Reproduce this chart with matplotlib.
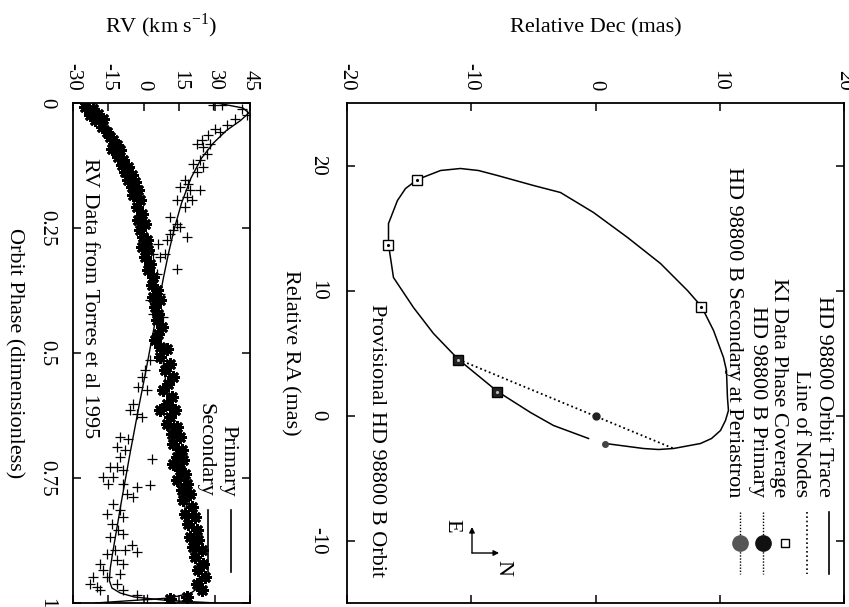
import matplotlib
matplotlib.use('Agg')
import matplotlib.pyplot as plt

plt.rcParams['font.family'] = ['Liberation Serif', 'DejaVu Serif']
plt.rcParams['mathtext.fontset'] = 'custom'
plt.rcParams['mathtext.rm'] = 'Liberation Serif'

# ---------------- Orbit panel data (mas) ----------------
orbit_dec = [0.80, 3.86, 5.07, 6.28, 8.45, 9.34, 10.06, 10.46, 10.70, 10.62, 10.54, 10.30, 9.50,
             8.53, 7.40, 5.23, 2.58, -0.16, -2.82, -4.99, -7.89, -9.42, -10.87, -12.47, -14.33,
             -15.29, -15.94, -16.66, -16.66, -16.26, -14.65, -13.04, -11.03, -7.89, -5.23,
             -3.38, -0.56]
orbit_ra = [-2.24, -2.64, -2.72, -2.64, -2.24, -1.84, -1.20, -0.40, 0.40, 1.44, 3.60, 4.64, 6.80,
            8.72, 10.00, 12.16, 14.24, 16.24, 17.84, 18.40, 19.20, 19.60, 19.76, 19.60, 18.88,
            18.16, 17.20, 15.36, 13.68, 11.04, 8.64, 6.56, 4.48, 1.92, 0.24,
            -0.80, -1.84]
nodes_dec = [-11.03, 6.28]
nodes_ra = [4.48, -2.64]
ki_dec = [-14.33, -16.66, -11.03, -7.89, 8.53]
ki_ra = [18.88, 13.68, 4.48, 1.92, 8.72]
ki_dark = [False, False, True, True, False]
primary_pos = (0.0, 0.0)
secondary_peri = (0.80, -2.24)

dec_ticks = [-20, -10, 0, 10, 20]
ra_ticks = [-10, 0, 10, 20]

# ---------------- RV panel data ----------------
prim_model_phase = [0, 0.02, 0.05, 0.1, 0.15, 0.2, 0.25, 0.3, 0.35, 0.4, 0.45, 0.5, 0.55, 0.6,
                    0.65, 0.7, 0.75, 0.8, 0.85, 0.9, 0.93, 0.955, 0.97, 0.98, 0.99, 1.0]
prim_model_rv = [-20.5, -18.5, -14.5, -9.5, -6.0, -3.0, -0.6, 1.5, 3.3, 4.9, 6.3, 7.7, 9.1, 10.5,
                 12.0, 13.6, 15.3, 17.1, 19.1, 21.3, 22.8, 23.8, 23.0, 20.0, 11.0, -20.5]
sec_model_phase = [0, 0.01, 0.02, 0.035, 0.055, 0.08, 0.11, 0.15, 0.2, 0.25, 0.3, 0.35, 0.4, 0.45,
                   0.5, 0.55, 0.6, 0.65, 0.7, 0.75, 0.8, 0.85, 0.9, 0.93, 0.955, 0.97, 0.98,
                   0.988, 0.995, 1.0]
sec_model_rv = [31, 42, 44.5, 41, 35, 29.5, 24.5, 20, 16, 13, 10.5, 8.3, 6.3, 4.3, 2.3, 0.3, -1.8,
                -3.8, -5.8, -7.7, -9.6, -11.4, -13.2, -14.2, -14.6, -13.5, -10, -4, 10, 31]

prim_phase = [0.007, 0.011, 0.024, 0.021, 0.034, 0.031, 0.047, 0.057, 0.067, 0.074, 0.084, 0.091,
              0.094, 0.107, 0.114, 0.124, 0.127, 0.137, 0.144, 0.154, 0.157, 0.167, 0.174, 0.184,
              0.194, 0.207, 0.221, 0.234, 0.241, 0.254, 0.267, 0.274, 0.287, 0.294, 0.307, 0.321,
              0.334, 0.347, 0.364, 0.374, 0.387, 0.394, 0.407, 0.421, 0.434, 0.447, 0.461, 0.474,
              0.487, 0.491, 0.507, 0.521, 0.534, 0.547, 0.561, 0.574, 0.587, 0.601, 0.614, 0.614,
              0.627, 0.641, 0.647, 0.661, 0.667, 0.681, 0.694, 0.707, 0.714, 0.721, 0.734, 0.741,
              0.754, 0.761, 0.774, 0.781, 0.794, 0.807, 0.821, 0.827, 0.841, 0.854, 0.867, 0.874,
              0.887, 0.894, 0.907, 0.921, 0.934, 0.947, 0.961, 0.974, 0.987, 0.991]
prim_rv = [-24.9, -21.4, -22.8, -19.3, -20.7, -17.1, -17.8, -15.7, -14.3, -12.9, -11.5, -13.6,
           -10.1, -10.8, -8.7, -9.4, -6.5, -8.0, -5.1, -6.5, -3.7, -5.1, -2.3, -4.4,
           -1.6, -3.0, -0.9, -2.3, 0.5, -1.6, -0.2, 1.2, -0.9, 1.9, 0.5, 2.6,
           1.9, 4.0, 3.3, 5.5, 4.0, 6.9, 4.7, 6.2, 5.5, 7.6, 6.2, 4.7,
           6.9, 9.7, 6.9, 11.1, 9.0, 12.5, 10.4, 8.3, 11.8, 9.7, 6.9, 13.2,
           11.1, 9.7, 13.9, 11.8, 15.3, 12.5, 16.0, 13.9, 16.8, 12.5, 15.3, 17.5,
           13.9, 18.2, 16.0, 19.6, 16.8, 20.3, 17.5, 21.7, 18.9, 22.4, 19.6, 23.1,
           21.0, 24.5, 21.7, 25.2, 23.1, 25.9, 22.4, 24.5, 18.2, 11.1]

sec_phase = [0.004, 0.004, 0.011, 0.024, 0.031, 0.044, 0.057, 0.051, 0.064, 0.074, 0.081, 0.087,
             0.081, 0.101, 0.114, 0.121, 0.127, 0.137, 0.154, 0.167, 0.161, 0.174, 0.174, 0.187,
             0.194, 0.207, 0.194, 0.227, 0.241, 0.247, 0.261, 0.267, 0.254, 0.274, 0.281, 0.301,
             0.301, 0.307, 0.331, 0.341, 0.381, 0.394, 0.421, 0.427,
             0.514, 0.534, 0.547, 0.567, 0.574, 0.601, 0.614, 0.621, 0.627, 0.667, 0.671, 0.687,
             0.694, 0.707, 0.711, 0.727, 0.727, 0.734, 0.747, 0.747, 0.761, 0.761, 0.767, 0.764,
             0.781, 0.787, 0.801, 0.814, 0.821, 0.827, 0.841, 0.854, 0.861, 0.867, 0.884, 0.894,
             0.894, 0.897, 0.901, 0.914, 0.921, 0.921, 0.934, 0.941, 0.947, 0.947, 0.961, 0.961,
             0.967, 0.974, 0.984, 0.974, 0.991]
sec_rv = [29.5, 33.0, 41.5, 43.6, 38.6, 35.1, 32.3, 30.2, 27.3, 24.5, 22.4, 25.2,
          28.1, 26.6, 23.8, 21.0, 25.2, 22.4, 17.5, 15.3, 18.9, 19.6, 23.8, 18.2,
          20.3, 17.5, 13.9, 11.1, 13.9, 15.3, 11.1, 18.2, 12.5, 9.7, 6.2, 9.0,
          4.0, 6.9, 13.9, 5.5, 6.9, 2.6, 4.0, 8.3,
          2.6, 0.5, -0.9, -2.3, 1.2, -4.4, -5.8, -3.0, -0.9, -10.1, -6.6, -11.5,
          -8.0, -10.1, 3.3, -14.3, -11.5, -8.7, -17.1, -12.9, -15.0, -8.7, -3.0, 2.6,
          -7.3, -4.4, -12.9, -10.1, -15.7, -8.7, -13.6, -10.8, -8.7, -14.3, -5.1, -12.2,
          -8.0, -3.0, -15.7, -11.5, -18.6, -8.7, -17.1, -10.1, -21.4, -15.7, -22.8, -11.5,
          -20.0, -8.7, -3.0, -18.6, 1.2]

rv_ticks = [-30, -15, 0, 15, 30, 45]
phase_ticks = [0, 0.25, 0.5, 0.75, 1]
phase_ticklabels = ['0', '0.25', '0.5', '0.75', '1']

W, H = 849, 607
fig = plt.figure(figsize=(W / 100, H / 100), dpi=100)
ax_rv = fig.add_axes([73 / W, 1 - 603 / H, 177 / W, 500 / H])
ax_orb = fig.add_axes([347 / W, 1 - 603 / H, 497 / W, 500 / H])

LBL = 16
TCK = 15

for ax in (ax_rv, ax_orb):
    for s in ax.spines.values():
        s.set_linewidth(1.3)
    ax.tick_params(direction='in', top=True, bottom=True, left=True, right=True,
                   labeltop=True, labelbottom=False, labelleft=True, labelright=False,
                   length=6, width=1.1, labelsize=TCK)

# ---------------- RV panel ----------------
ax_rv.plot(prim_model_rv, prim_model_phase, color='black', lw=1.0)
ax_rv.plot(sec_model_rv, sec_model_phase, color='black', lw=1.0)
ax_rv.plot(sec_rv, sec_phase, ls='none', marker='+', ms=7, mew=0.9, color='black')
ax_rv.plot(prim_rv, prim_phase, ls='none', marker=(8, 2, 0), ms=9, mew=2.0, color='black')
ax_rv.set_xlim(-30, 45)
ax_rv.set_ylim(1, 0)
ax_rv.set_xticks(rv_ticks)
ax_rv.set_xticklabels([str(t) for t in rv_ticks])
ax_rv.set_yticks(phase_ticks)
ax_rv.set_yticklabels(phase_ticklabels)
ax_rv.tick_params(axis='x', labelrotation=-90, pad=9)
ax_rv.tick_params(axis='y', labelrotation=-90, pad=12)
for lab in ax_rv.get_yticklabels():
    lab.set_va('center')
ax_rv.xaxis.set_label_position('top')
ax_rv.set_xlabel('RV (km s$^{\\mathregular{-1}}$)', fontsize=LBL, labelpad=22)
ax_rv.set_ylabel('Orbit Phase (dimensionless)', fontsize=LBL, rotation=-90, va='center')
ax_rv.yaxis.set_label_coords(-0.33, 0.5)

ax_rv.text(0.096, 0.61, 'RV Data from Torres et al 1995', transform=ax_rv.transAxes,
           rotation=-90, ha='center', va='center', fontsize=LBL)
ax_rv.text(0.876, 0.212, 'Primary', transform=ax_rv.transAxes, rotation=-90,
           ha='center', va='bottom', fontsize=LBL)
ax_rv.text(0.746, 0.212, 'Secondary', transform=ax_rv.transAxes, rotation=-90,
           ha='center', va='bottom', fontsize=LBL)
ax_rv.plot([0.89, 0.89], [0.186, 0.062], transform=ax_rv.transAxes, color='black', lw=1.2)
ax_rv.plot([0.76, 0.76], [0.186, 0.062], transform=ax_rv.transAxes, color='black', lw=1.2)

# ---------------- Orbit panel ----------------
ax_orb.plot(orbit_dec, orbit_ra, color='black', lw=1.1)
ax_orb.plot(nodes_dec, nodes_ra, color='black', lw=1.3, ls=(0, (1, 1.6)))
for d, r, dark in zip(ki_dec, ki_ra, ki_dark):
    ax_orb.plot([d], [r], ls='none', marker='s', ms=7, mew=1.0, mec='black',
                mfc='#222222' if dark else 'white')
    ax_orb.plot([d], [r], ls='none', marker='.', ms=2.5, color='#bbbbbb' if dark else 'black')
ax_orb.plot([primary_pos[0]], [primary_pos[1]], ls='none', marker='o', ms=5, color='#222222')
ax_orb.plot([secondary_peri[0]], [secondary_peri[1]], ls='none', marker='o', ms=4, color='#444444')

ax_orb.set_xlim(-20, 20)
ax_orb.set_ylim(-15, 25)
ax_orb.set_xticks(dec_ticks)
ax_orb.set_xticklabels([str(t) for t in dec_ticks])
ax_orb.set_yticks(ra_ticks)
ax_orb.set_yticklabels([str(t) for t in ra_ticks])
ax_orb.tick_params(axis='x', labelrotation=-90, pad=9)
ax_orb.tick_params(axis='y', labelrotation=-90, pad=14)
for lab in ax_orb.get_yticklabels():
    lab.set_va('center')
ax_orb.xaxis.set_label_position('top')
ax_orb.set_xlabel('Relative Dec (mas)', fontsize=LBL, labelpad=22)
ax_orb.set_ylabel('Relative RA (mas)', fontsize=LBL, rotation=-90, va='center')
ax_orb.yaxis.set_label_coords(-0.115, 0.5)

ax_orb.text(0.06, 0.324, 'Provisional HD 98800 B Orbit', transform=ax_orb.transAxes,
            rotation=-90, ha='center', va='center', fontsize=LBL)

# legend (rotated, drawn manually)
leg_labels = ['HD 98800 Orbit Trace', 'Line of Nodes', 'KI Data Phase Coverage',
              'HD 98800 B Primary', 'HD 98800 B Secondary at Periastron']
leg_x = [0.958, 0.913, 0.869, 0.826, 0.778]
for lab, lx in zip(leg_labels, leg_x):
    ax_orb.text(lx, 0.212, lab, transform=ax_orb.transAxes, rotation=-90,
                ha='center', va='bottom', fontsize=LBL)
lx_off = 0.012
ax_orb.plot([leg_x[0] + lx_off] * 2, [0.182, 0.058], transform=ax_orb.transAxes, color='black', lw=1.2)
ax_orb.plot([leg_x[1] + lx_off] * 2, [0.182, 0.058], transform=ax_orb.transAxes, color='black', lw=1.2,
            ls=(0, (1, 1.6)))
ax_orb.plot([leg_x[2] + lx_off], [0.12], transform=ax_orb.transAxes, ls='none', marker='s', ms=6,
            mfc='white', mec='black', mew=1.0)
ax_orb.plot([leg_x[3] + lx_off] * 2, [0.182, 0.058], transform=ax_orb.transAxes, color='black', lw=1.0,
            ls=(0, (1, 1.2)))
ax_orb.plot([leg_x[3] + lx_off], [0.12], transform=ax_orb.transAxes, ls='none', marker='o', ms=11,
            color='#111111')
ax_orb.plot([leg_x[4] + lx_off] * 2, [0.182, 0.058], transform=ax_orb.transAxes, color='black', lw=1.0,
            ls=(0, (1, 1.2)))
ax_orb.plot([leg_x[4] + lx_off], [0.12], transform=ax_orb.transAxes, ls='none', marker='o', ms=11,
            color='#555555')

# compass
ax_orb.annotate('', xy=(0.2515, 0.152), xytext=(0.2515, 0.1), xycoords='axes fraction',
                arrowprops=dict(arrowstyle='-|>', color='black', lw=1.0, mutation_scale=8,
                                shrinkA=0, shrinkB=0))
ax_orb.annotate('', xy=(0.306, 0.1), xytext=(0.2515, 0.1), xycoords='axes fraction',
                arrowprops=dict(arrowstyle='-|>', color='black', lw=1.0, mutation_scale=8,
                                shrinkA=0, shrinkB=0))
ax_orb.text(0.212, 0.155, 'E', transform=ax_orb.transAxes, rotation=-90, ha='center',
            va='center', fontsize=LBL)
ax_orb.text(0.314, 0.07, 'N', transform=ax_orb.transAxes, rotation=-90, ha='center',
            va='center', fontsize=LBL)

fig.savefig('out.png', dpi=100)
